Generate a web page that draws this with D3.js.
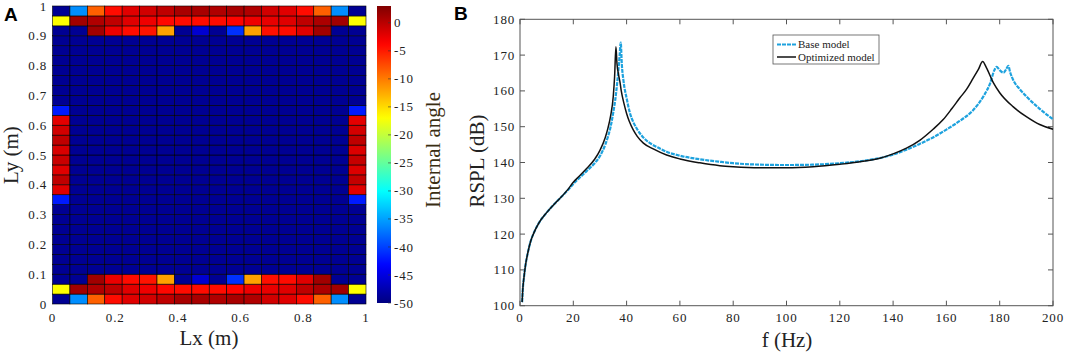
<!DOCTYPE html>
<html>
<head>
<meta charset="utf-8">
<script src="https://cdn.jsdelivr.net/npm/d3@7"></script>
<style>
  html, body { margin: 0; padding: 0; background: #fff; }
  svg { display: block; }
  .tick-lbl { font-family: "Liberation Serif", "Times New Roman", serif; font-size: 13px; letter-spacing: 0.8px; fill: #222; }
  .ax-title { font-family: "Liberation Serif", "Times New Roman", serif; font-size: 21px; fill: #222; }
  .panel { font-family: "Liberation Sans", Arial, sans-serif; font-size: 19px; font-weight: bold; fill: #000; }
  .leg { font-family: "Liberation Serif", "Times New Roman", serif; font-size: 11px; fill: #222; }
</style>
</head>
<body>
<svg id="chart" width="1065" height="355"></svg>
<script>
// ---------------------------------------------------------------------------
// Panel A: internal angle of each cell (18 columns x 30 rows, jet colormap)
// ---------------------------------------------------------------------------
const NCOLS = 18, NROWS = 30;
const BG = -49; // value of every cell not listed below

// rows at the top, from the top edge downwards (rows 29, 28, 27)
const topRows = [
  [-49, -36, -8.6, -4.2, -2.0, -1.2, -0.3, 0.9, 0.9, 0.5, 0.9, 0.5, -1.2, -2.0, -4.2, -8.6, -36, -49],
  [-16.9, 1.3, 0.5, -0.3, -2.0, -2.8, -4.0, -4.2, -4.2, -4.2, -3.8, -2.8, -2.4, -2.0, -0.3, 0.7, 1.3, -16.9],
  [-49, -49, 1.3, -2.6, -4.2, -4.6, -12, -49, -45.8, -49, -40.9, -12, -4.4, -4.2, -2.0, 1.3, -49, -49],
];
// rows at the bottom, from the bottom edge upwards (rows 0, 1, 2)
const bottomRows = [
  [-49, -36, -8.6, -4.2, -2.0, -1.2, -0.3, 0.9, 0.9, 0.5, 0.9, 0.5, -1.2, -2.0, -4.2, -8.6, -36, -49],
  [-16.9, 1.3, 0.5, -0.3, -2.0, -2.8, -4.0, -4.2, -4.2, -4.2, -3.8, -2.8, -2.4, -2.0, -0.3, 0.7, 1.3, -16.9],
  [-49, -49, 1.3, -2.6, -4.2, -4.6, -12, -49, -45.8, -49, -40.9, -12, -4.4, -4.2, -2.0, 1.3, -49, -49],
];
// first and last column, rows 10..19 (bottom to top)
const sideRowStart = 10;
const leftCol  = [-42, -2.0, -0.3, -2.0, -0.8, -1.6, -0.3, -1.2, -2.2, -42];
const rightCol = [-42, -2.0, -0.5, -1.8, -0.6, -1.8, -0.3, -1.4, -2.2, -42];

const yTicksA = [0, 0.1, 0.2, 0.3, 0.4, 0.5, 0.6, 0.7, 0.8, 0.9, 1];
const xTicksA = [0, 0.2, 0.4, 0.6, 0.8, 1];
const cbTicks = [0, -5, -10, -15, -20, -25, -30, -35, -40, -45, -50];

// ---------------------------------------------------------------------------
// Panel B: RSPL response curves
// ---------------------------------------------------------------------------
const freqBase = [0.8, 1, 1.5, 2, 3, 4, 5, 7, 10, 13, 15, 18, 20, 22, 25, 28, 30, 32, 33, 34, 35, 36, 36.5, 37, 37.4, 37.8,
  38.2, 38.8, 40, 41.3, 42.5, 43.8, 46, 48.8, 52, 55, 60, 67.5, 75, 80, 90, 100, 110, 120, 130, 140, 145, 150, 155,
  160, 165, 170, 174, 176.4, 178, 178.8, 180, 181.4, 182.4, 183.2, 184, 185.1, 187.5, 190.1, 195, 200];
const rsplBase = [101, 104, 108, 111, 115, 118, 120, 123, 126, 128.5, 130, 132.3, 134, 135.5, 137.6, 139.8, 141.8, 145, 147.2, 150, 154, 159, 162.5, 166.5, 170, 173.5,
  167.5, 163, 158, 153.7, 151.3, 149.5, 147.2, 145.4, 144.1, 143, 141.9, 140.9, 140.2, 139.8, 139.4, 139.3, 139.4, 139.8, 140.6, 142.2, 143.6, 145.2, 147.0,
  149.2, 151.6, 154.6, 158.6, 162.1, 165.8, 166.7, 165.8, 165.1, 166, 167, 165, 163, 160.5, 158.4, 155, 152.1];

const freqOpt = [0.8, 1, 1.5, 2, 3, 4, 5, 7, 10, 13, 15, 18, 20, 22, 25, 28, 30, 32, 33, 34, 35, 35.5, 36, 36.4, 37, 37.5, 38, 39, 40,
  41, 42.5, 44, 46.3, 50, 55, 60, 67.5, 75, 80, 90, 100, 110, 120, 127.6, 135, 140, 145, 150, 155, 158.8, 162, 165, 167.6,
  170, 172, 173.6, 175, 177.6, 180, 185, 190, 195, 200];
const rsplOpt = [101, 104, 108, 111, 115, 118, 120, 123, 126, 128.5, 130, 132.5, 134.5, 136, 138.3, 140.9, 143.4, 147, 149.6, 153, 158.5, 164, 172.3, 167.5, 164.5, 162.5, 160, 156.5, 153.7,
  151.5, 149.1, 147.3, 145.4, 143.8, 142.1, 141, 139.9, 139.1, 138.8, 138.5, 138.5, 138.8, 139.5, 140.2, 141.2, 142.4, 144, 146.2, 149.3, 152, 155, 158, 160.5,
  163.5, 166, 168.2, 166.5, 162.3, 159.5, 155.6, 152.8, 150.6, 149.3];

const yTicksB = [100, 110, 120, 130, 140, 150, 160, 170, 180];
const xTicksB = [0, 20, 40, 60, 80, 100, 120, 140, 160, 180, 200];

const legendItems = [
  { label: "Base model", color: "#1ea2de", dash: "4 1", width: 2.2 },
  { label: "Optimized model", color: "#111", dash: null, width: 1.5 },
];

// ---------------------------------------------------------------------------
const svg = d3.select("#chart");

// jet colour map over [-50, 3]
const jet = d3.scaleLinear()
  .domain([-50, -43.375, -30.125, -16.875, -3.625, 3])
  .range(["#000080", "#0000ff", "#00ffff", "#ffff00", "#ff0000", "#800000"])
  .clamp(true);

// build the cell table
const cells = [];
for (let r = 0; r < NROWS; r++) {
  for (let c = 0; c < NCOLS; c++) {
    let v = BG;
    if (r >= NROWS - 3) v = topRows[NROWS - 1 - r][c];
    else if (r < 3) v = bottomRows[r][c];
    else if (r >= sideRowStart && r < sideRowStart + leftCol.length) {
      if (c === 0) v = leftCol[r - sideRowStart];
      if (c === NCOLS - 1) v = rightCol[r - sideRowStart];
    }
    cells.push({ r, c, v });
  }
}

const xA = d3.scaleLinear().domain([0, 1]).range([52.5, 366]);
const yA = d3.scaleLinear().domain([0, 1]).range([304, 6]);

const gA = svg.append("g");
gA.selectAll("rect.cell").data(cells).enter().append("rect")
  .attr("class", "cell")
  .attr("x", d => xA(d.c / NCOLS))
  .attr("y", d => yA((d.r + 1) / NROWS))
  .attr("width", xA(1 / NCOLS) - xA(0))
  .attr("height", yA(0) - yA(1 / NROWS))
  .attr("fill", d => jet(d.v))
  .attr("stroke", "#000")
  .attr("stroke-width", 0.6);

gA.selectAll("text.ya").data(yTicksA).enter().append("text")
  .attr("class", "tick-lbl")
  .attr("x", 47).attr("y", d => yA(d)).attr("dy", "0.35em")
  .attr("text-anchor", "end")
  .text(d => d3.format("~g")(d));

gA.selectAll("text.xa").data(xTicksA).enter().append("text")
  .attr("class", "tick-lbl")
  .attr("x", d => xA(d)).attr("y", 322)
  .attr("text-anchor", "middle")
  .text(d => d3.format("~g")(d));

gA.append("text").attr("class", "ax-title")
  .attr("x", 209).attr("y", 345).attr("text-anchor", "middle").text("Lx (m)");
gA.append("text").attr("class", "ax-title")
  .attr("transform", "translate(18,155) rotate(-90)")
  .attr("text-anchor", "middle").text("Ly (m)");
svg.append("text").attr("class", "panel").attr("x", 4).attr("y", 21).text("A");

// colour bar
const cbY = d3.scaleLinear().domain([-50, 3]).range([303, 6]);
const defs = svg.append("defs");
const grad = defs.append("linearGradient").attr("id", "jetGrad")
  .attr("x1", 0).attr("x2", 0).attr("y1", 1).attr("y2", 0);
d3.range(0, 54, 1).forEach(i => {
  const v = -50 + i;
  grad.append("stop").attr("offset", `${(i / 53) * 100}%`).attr("stop-color", jet(v));
});
svg.append("rect").attr("x", 377).attr("y", cbY(3))
  .attr("width", 14).attr("height", cbY(-50) - cbY(3))
  .attr("fill", "url(#jetGrad)");
svg.selectAll("line.cbt").data(cbTicks).enter().append("line")
  .attr("x1", 388).attr("x2", 391)
  .attr("y1", d => cbY(d)).attr("y2", d => cbY(d))
  .attr("stroke", "#333").attr("stroke-width", 0.6);
svg.selectAll("text.cbl").data(cbTicks).enter().append("text")
  .attr("class", "tick-lbl")
  .attr("x", 394).attr("y", d => cbY(d)).attr("dy", "0.35em")
  .text(d => d);
svg.append("text").attr("class", "ax-title")
  .attr("transform", "translate(440,150) rotate(-90)")
  .attr("text-anchor", "middle")
  .style("fill", "#3a2e12")
  .text("Internal angle");

// ---------------------------------------------------------------------------
// Panel B
const xB = d3.scaleLinear().domain([0, 200]).range([520, 1053]);
const yB = d3.scaleLinear().domain([100, 180]).range([305.7, 19.3]);
const gB = svg.append("g");

gB.append("rect").attr("x", xB(0)).attr("y", yB(180))
  .attr("width", xB(200) - xB(0)).attr("height", yB(100) - yB(180))
  .attr("fill", "none").attr("stroke", "#555").attr("stroke-width", 1);

const TL = 5;
gB.selectAll("line.xtb").data(xTicksB).enter().append("line")
  .attr("x1", d => xB(d)).attr("x2", d => xB(d))
  .attr("y1", yB(100)).attr("y2", yB(100) - TL)
  .attr("stroke", "#555");
gB.selectAll("line.xtt").data(xTicksB).enter().append("line")
  .attr("x1", d => xB(d)).attr("x2", d => xB(d))
  .attr("y1", yB(180)).attr("y2", yB(180) + TL)
  .attr("stroke", "#555");
gB.selectAll("line.ytl").data(yTicksB).enter().append("line")
  .attr("x1", xB(0)).attr("x2", xB(0) + TL)
  .attr("y1", d => yB(d)).attr("y2", d => yB(d))
  .attr("stroke", "#555");
gB.selectAll("line.ytr").data(yTicksB).enter().append("line")
  .attr("x1", xB(200)).attr("x2", xB(200) - TL)
  .attr("y1", d => yB(d)).attr("y2", d => yB(d))
  .attr("stroke", "#555");

gB.selectAll("text.yb").data(yTicksB).enter().append("text")
  .attr("class", "tick-lbl")
  .attr("x", 515).attr("y", d => yB(d)).attr("dy", "0.35em")
  .attr("text-anchor", "end").text(d => d);
gB.selectAll("text.xb").data(xTicksB).enter().append("text")
  .attr("class", "tick-lbl")
  .attr("x", d => xB(d)).attr("y", 322)
  .attr("text-anchor", "middle").text(d => d);

gB.append("text").attr("class", "ax-title")
  .attr("x", 787).attr("y", 347).attr("text-anchor", "middle").text("f (Hz)");
gB.append("text").attr("class", "ax-title")
  .attr("transform", "translate(484,161) rotate(-90)")
  .attr("text-anchor", "middle").text("RSPL (dB)");
svg.append("text").attr("class", "panel").attr("x", 454).attr("y", 20).text("B");

const line = d3.line().x(d => xB(d[0])).y(d => yB(d[1])).curve(d3.curveMonotoneX);

gB.append("path")
  .datum(d3.zip(freqBase, rsplBase))
  .attr("d", line)
  .attr("fill", "none")
  .attr("stroke", legendItems[0].color)
  .attr("stroke-width", legendItems[0].width)
  .attr("stroke-dasharray", legendItems[0].dash);
gB.append("path")
  .datum(d3.zip(freqOpt, rsplOpt))
  .attr("d", line)
  .attr("fill", "none")
  .attr("stroke", legendItems[1].color)
  .attr("stroke-width", legendItems[1].width);

// legend
const gL = svg.append("g").attr("transform", "translate(773,35)");
gL.append("rect").attr("width", 106).attr("height", 29)
  .attr("fill", "#fff").attr("stroke", "#555").attr("stroke-width", 0.8);
const li = gL.selectAll("g.li").data(legendItems).enter().append("g")
  .attr("transform", (d, i) => `translate(0,${9.5 + i * 12.5})`);
li.append("line").attr("x1", 4).attr("x2", 23)
  .attr("stroke", d => d.color).attr("stroke-width", d => d.width)
  .attr("stroke-dasharray", d => d.dash);
li.append("text").attr("class", "leg").attr("x", 25).attr("dy", "0.33em").text(d => d.label);
</script>
</body>
</html>
